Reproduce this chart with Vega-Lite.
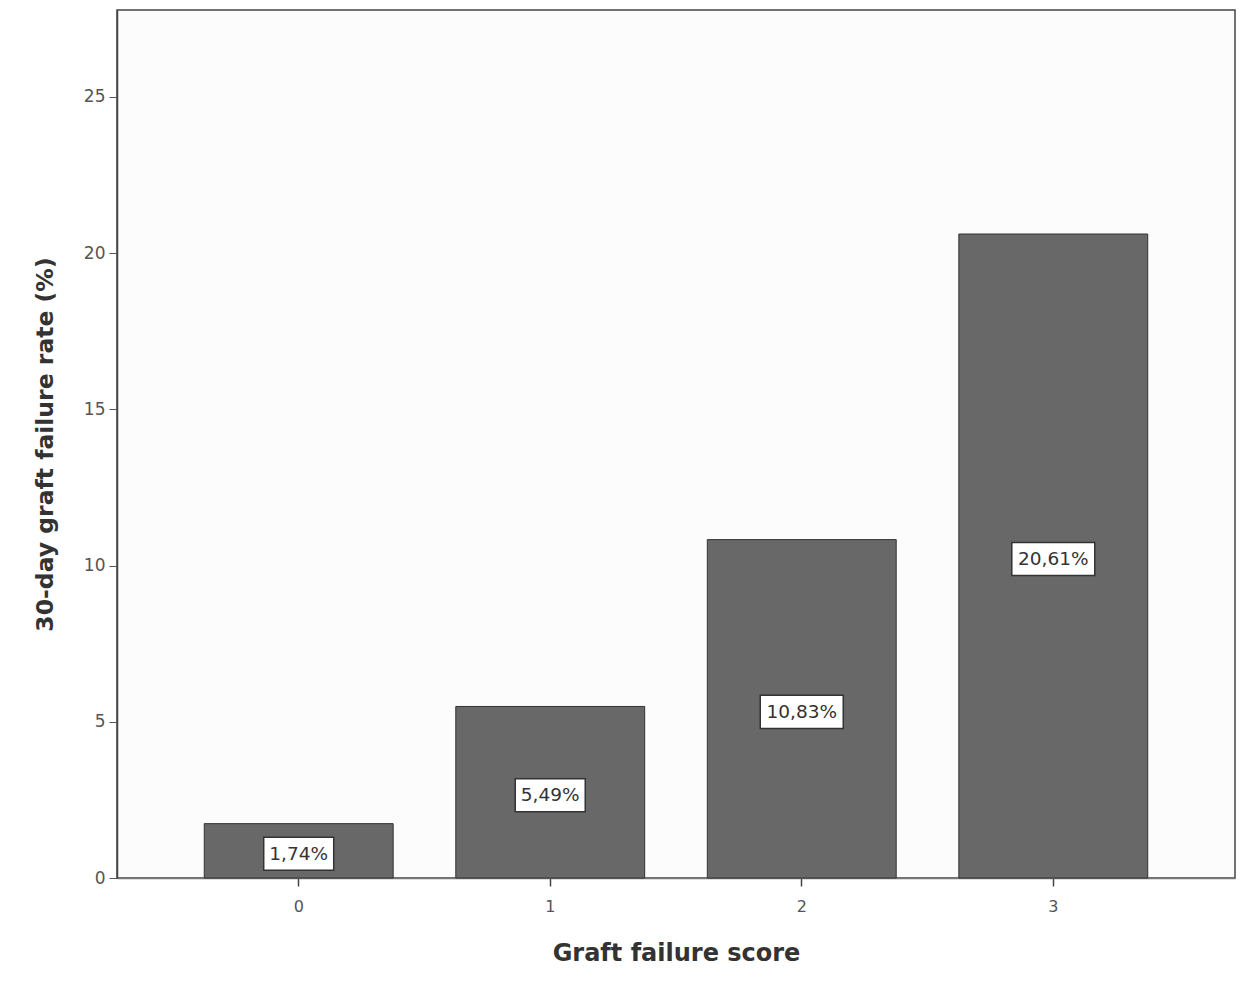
{
  "$schema": "https://vega.github.io/schema/vega-lite/v6.json",
  "autosize": {"type": "none"},
  "width": 1118,
  "height": 868,
  "padding": {"left": 117, "top": 10, "right": 15, "bottom": 120},
  "background": "#ffffff",
  "config": {
    "font": "DejaVu Sans",
    "view": {"fill": "#fcfcfc", "stroke": "#444444", "strokeWidth": 1.5}
  },
  "data": {
    "values": [
      {"score": "0", "rate": 1.74, "label": "1,74%"},
      {"score": "1", "rate": 5.49, "label": "5,49%"},
      {"score": "2", "rate": 10.83, "label": "10,83%"},
      {"score": "3", "rate": 20.61, "label": "20,61%"}
    ]
  },
  "transform": [{"calculate": "datum.rate / 2", "as": "mid"}],
  "encoding": {
    "x": {
      "field": "score",
      "type": "ordinal",
      "scale": {"paddingInner": 0.249, "paddingOuter": 0.347},
      "axis": {
        "title": "Graft failure score",
        "titleFont": "DejaVu Sans",
        "titleFontSize": 24,
        "titleFontWeight": "bold",
        "titleColor": "#333333",
        "titleY": 75,
        "titleBaseline": "middle",
        "labelAngle": 0,
        "labelFontSize": 16,
        "labelColor": "#555555",
        "labelPadding": 12,
        "tickSize": 8,
        "tickColor": "#444444",
        "tickWidth": 1.5,
        "domainColor": "#777777",
        "domainWidth": 1.5
      }
    }
  },
  "layer": [
    {
      "mark": {"type": "bar", "color": "#686868", "stroke": "#333333", "strokeWidth": 1},
      "encoding": {
        "y": {
          "field": "rate",
          "type": "quantitative",
          "scale": {"domain": [0, 27.78], "nice": false},
          "axis": {
            "title": "30-day graft failure rate (%)",
            "titleFont": "DejaVu Sans",
            "titleFontSize": 23.5,
            "titleFontWeight": "bold",
            "titleColor": "#333333",
            "titleX": -72,
            "titleY": 434,
            "titleAngle": -90,
            "titleAlign": "center",
            "titleBaseline": "middle",
            "values": [0, 5, 10, 15, 20, 25],
            "grid": false,
            "labelFontSize": 17,
            "labelColor": "#555555",
            "labelPadding": 4,
            "tickSize": 8,
            "tickColor": "#555555",
            "domainColor": "#444444",
            "domainWidth": 1.5
          }
        }
      }
    },
    {
      "transform": [{"filter": "datum.rate < 10"}],
      "mark": {
        "type": "point",
        "shape": "M-1,-0.47H1V0.47H-1Z",
        "size": 4900,
        "filled": true,
        "fill": "#ffffff",
        "stroke": "#333333",
        "strokeWidth": 1.5,
        "opacity": 1,
        "yOffset": 3
      },
      "encoding": {
        "y": {"field": "mid", "type": "quantitative"}
      }
    },
    {
      "transform": [{"filter": "datum.rate >= 10"}],
      "mark": {
        "type": "point",
        "shape": "M-1,-0.4H1V0.4H-1Z",
        "size": 6889,
        "filled": true,
        "fill": "#ffffff",
        "stroke": "#333333",
        "strokeWidth": 1.5,
        "opacity": 1,
        "yOffset": 3
      },
      "encoding": {
        "y": {"field": "mid", "type": "quantitative"}
      }
    },
    {
      "mark": {
        "type": "text",
        "fontSize": 18.5,
        "color": "#333333",
        "baseline": "middle",
        "align": "center",
        "yOffset": 3
      },
      "encoding": {
        "y": {"field": "mid", "type": "quantitative"},
        "text": {"field": "label"}
      }
    }
  ]
}
